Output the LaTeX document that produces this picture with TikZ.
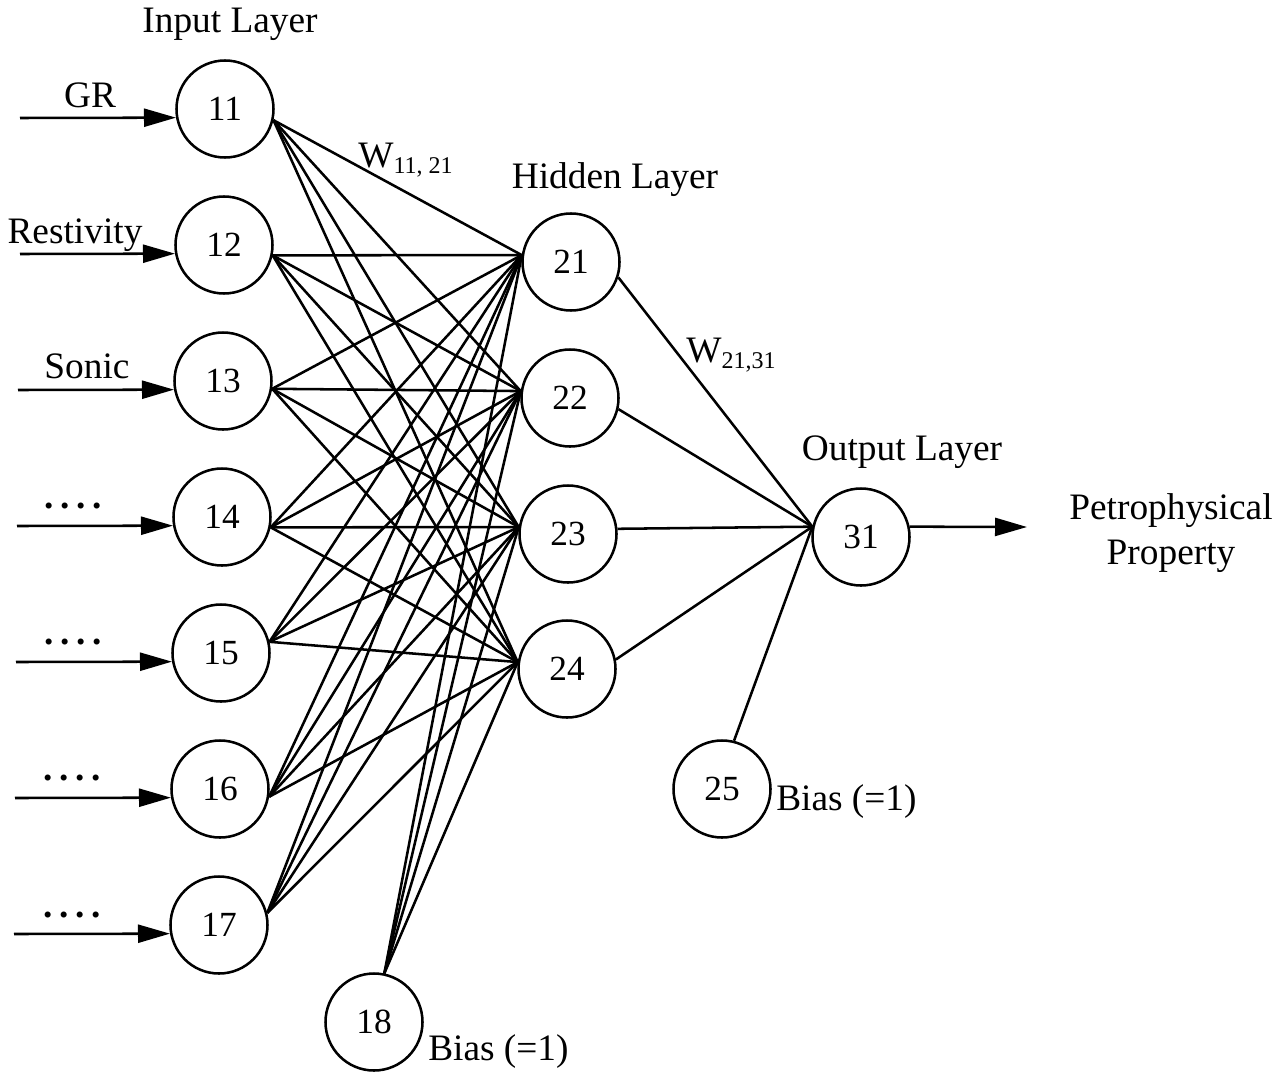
\documentclass[tikz,border=0pt]{standalone}
\usepackage{fontspec}
\setmainfont{Liberation Serif}
\usetikzlibrary{arrows.meta}

\tikzset{every picture/.style={line width=1.9pt}}
\tikzset{
	neuron/.style={draw, circle, minimum size=72.75pt, inner sep=0pt, font=\fontsize{26.5}{30}\selectfont},
	layertext/.style={inner sep=0pt, font=\fontsize{28}{34}\selectfont},
	feed/.style={-{Triangle[length=24pt,width=13.5pt]}}
}
\newcommand{\wsub}[1]{\raisebox{-4.5pt}{\fontsize{18}{20}\selectfont #1}}

\begin{document}
\begin{tikzpicture}[x=0.75pt,y=0.75pt,yscale=-1,xscale=1]
	\useasboundingbox (0,0) rectangle (1280,1078);
	
	%Shape: Circle, input layer
	\node [neuron] (i11) at (225,109) {11};
	\node [neuron] (i12) at (224,245) {12};
	\node [neuron] (i13) at (223,381) {13};
	\node [neuron] (i14) at (222,517) {14};
	\node [neuron] (i15) at (221,653) {15};
	\node [neuron] (i16) at (220,789) {16};
	\node [neuron] (i17) at (219,925) {17};
	\node [neuron] (b18) at (374,1022) {18};
	%Shape: Circle, hidden layer
	\node [neuron] (h21) at (571,262) {21};
	\node [neuron] (h22) at (570,398) {22};
	\node [neuron] (h23) at (568,534) {23};
	\node [neuron] (h24) at (567,669) {24};
	\node [neuron] (b25) at (722,789) {25};
	%Shape: Circle, output layer
	\node [neuron] (o31) at (861,537) {31};
	
	%Text nodes
	\node [layertext, anchor=base] (tin) at (230,32) {Input Layer};
	\node [layertext, anchor=base] (thid) at (615,188) {Hidden Layer};
	\node [layertext, anchor=base] (tout) at (902,460) {Output Layer};
	\node [layertext, anchor=base] (tgr) at (90,107) {GR};
	\node [layertext, anchor=base] (tres) at (75,243) {Restivity};
	\node [layertext, anchor=base] (tson) at (87,378) {Sonic};
	\node [layertext] (td14) at (73,506) {\textbf{.\hspace{5pt}.\hspace{5pt}.\hspace{5pt}.}};
	\node [layertext] (td15) at (73,642) {\textbf{.\hspace{5pt}.\hspace{5pt}.\hspace{5pt}.}};
	\node [layertext] (td16) at (72,778) {\textbf{.\hspace{5pt}.\hspace{5pt}.\hspace{5pt}.}};
	\node [layertext] (td17) at (72,915) {\textbf{.\hspace{5pt}.\hspace{5pt}.\hspace{5pt}.}};
	\node [layertext, anchor=base west] (tw1) at (357,167) {W\wsub{11, 21}};
	\node [layertext, anchor=base west] (tw2) at (685,362) {W\wsub{21,31}};
	\node [layertext, anchor=base west] (tb18) at (427,1060) {Bias (=1)};
	\node [layertext, anchor=base west] (tb25) at (775,810) {Bias (=1)};
	\node [layertext, align=center] (tprop) at (1171,533) {Petrophysical\\Property};
	
	%Free ends of the arrows
	\coordinate (a11) at (20,118);
	\coordinate (a12) at (20,254);
	\coordinate (a13) at (18,390);
	\coordinate (a14) at (17,526);
	\coordinate (a15) at (16,662);
	\coordinate (a16) at (15,798);
	\coordinate (a17) at (14,934);
	\coordinate (a31) at (1027,527);
	
	%Straight Lines, inputs
	\draw [feed] (a11) -- (i11.190) ;
	\draw [feed] (a12) -- (i12.190) ;
	\draw [feed] (a13) -- (i13.190) ;
	\draw [feed] (a14) -- (i14.190) ;
	\draw [feed] (a15) -- (i15.190) ;
	\draw [feed] (a16) -- (i16.190) ;
	\draw [feed] (a17) -- (i17.190) ;
	%Straight Lines, from 11
	\draw (i11.-13) -- (h21.172) ;
	\draw (i11.-13) -- (h22.172) ;
	\draw (i11.-13) -- (h23.172) ;
	\draw (i11.-13) -- (h24.172) ;
	%Straight Lines, from 12
	\draw (i12.-12) -- (h21.172) ;
	\draw (i12.-12) -- (h22.172) ;
	\draw (i12.-12) -- (h23.172) ;
	\draw (i12.-12) -- (h24.172) ;
	%Straight Lines, from 13
	\draw (i13.-9) -- (h21.172) ;
	\draw (i13.-9) -- (h22.172) ;
	\draw (i13.-9) -- (h23.172) ;
	\draw (i13.-9) -- (h24.172) ;
	%Straight Lines, from 14
	\draw (i14.-12) -- (h21.172) ;
	\draw (i14.-12) -- (h22.172) ;
	\draw (i14.-12) -- (h23.172) ;
	\draw (i14.-12) -- (h24.172) ;
	%Straight Lines, from 15
	\draw (i15.13) -- (h21.172) ;
	\draw (i15.13) -- (h22.172) ;
	\draw (i15.13) -- (h23.172) ;
	\draw (i15.13) -- (h24.172) ;
	%Straight Lines, from 16
	\draw (i16.-9) -- (h21.172) ;
	\draw (i16.-9) -- (h22.172) ;
	\draw (i16.-9) -- (h23.172) ;
	\draw (i16.-9) -- (h24.172) ;
	%Straight Lines, from 17
	\draw (i17.14) -- (h21.172) ;
	\draw (i17.14) -- (h22.172) ;
	\draw (i17.14) -- (h23.172) ;
	\draw (i17.14) -- (h24.172) ;
	%Straight Lines, from 18
	\draw (b18.78) -- (h21.172) ;
	\draw (b18.78) -- (h22.172) ;
	\draw (b18.78) -- (h23.172) ;
	\draw (b18.78) -- (h24.172) ;
	%Straight Lines, to 31
	\draw (h21.-18) -- (o31.168) ;
	\draw (h22.-13) -- (o31.168) ;
	\draw (h23.6) -- (o31.168) ;
	\draw (h24.11) -- (o31.168) ;
	\draw (b25.76) -- (o31.168) ;
	%Straight Lines, output
	\draw [feed] (o31.12) -- (a31) ;
	
\end{tikzpicture}
\end{document}
